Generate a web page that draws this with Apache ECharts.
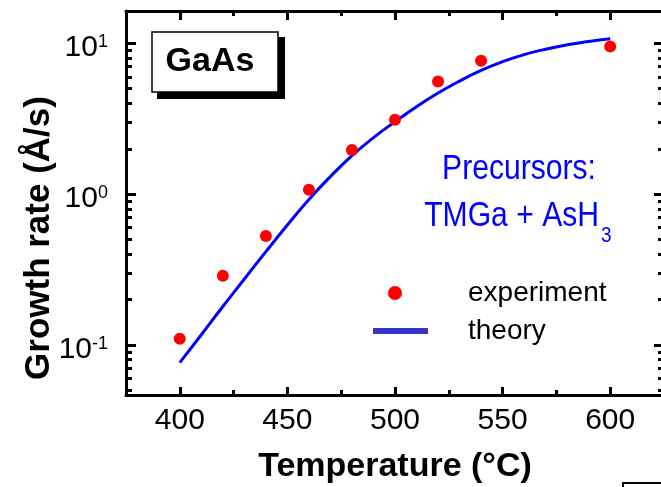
<!DOCTYPE html>
<html>
<head>
<meta charset="utf-8">
<script src="https://cdn.jsdelivr.net/npm/echarts@6/dist/echarts.min.js"></script>
<style>
  html, body { margin: 0; padding: 0; background: #ffffff; }
  #chart { width: 661px; height: 487px; }
</style>
</head>
<body>
<div id="chart"></div>
<script>
// Measured GaAs growth rate (Å/s) versus substrate temperature (°C)
const temperatures = [400, 420, 440, 460, 480, 500, 520, 540, 600];
const measuredRate = [0.110, 0.288, 0.529, 1.07, 1.96, 3.11, 5.58, 7.65, 9.52];

// Model curve
const modelTemperatures = [400, 410, 420, 430, 440, 450, 460, 470, 480, 490, 500,
                           510, 520, 530, 540, 550, 560, 570, 580, 590, 600];
const modelRate = [0.0764, 0.117, 0.180, 0.274, 0.416, 0.625, 0.923, 1.31, 1.80, 2.37, 3.02,
                   3.80, 4.68, 5.62, 6.61, 7.55, 8.41, 9.14, 9.77, 10.28, 10.72];

// Axis ticks
const xTickValues = [400, 450, 500, 550, 600];
const xMinorTickValues = [425, 475, 525, 575];
const yTickExponents = [-1, 0, 1];
const yMinorMantissas = [2, 3, 4, 5, 6, 7, 8, 9];

const X_MIN = 375, X_MAX = 625;
const Y_MIN = -1.331, Y_MAX = 1.214;   // log10 of the rate range

const SANS = "'Liberation Sans', Arial, Helvetica, sans-serif";

const log10 = v => Math.log10(v);

// log-spaced minor tick positions (in log10 units) inside the axis range
const yMinorTickValues = [];
for (let e = -2; e <= 1; e++) {
  yMinorMantissas.forEach(m => {
    const v = log10(m * Math.pow(10, e));
    if (v > Y_MIN && v < Y_MAX) yMinorTickValues.push(v);
  });
}

const measuredData = temperatures.map((t, i) => [t, log10(measuredRate[i])]);
const modelData = modelTemperatures.map((t, i) => [t, log10(modelRate[i])]);

const axisLineStyle = { color: '#000', width: 3 };

function xAxisDef(position, major, withLabels) {
  return {
    type: 'value', position: position, min: X_MIN, max: X_MAX,
    axisLine: { show: major, lineStyle: axisLineStyle, onZero: false },
    axisTick: {
      show: true, inside: true, length: major ? (position === 'top' ? 9 : 8) : 5,
      customValues: major ? xTickValues : xMinorTickValues,
      lineStyle: { color: '#000', width: 3 }
    },
    axisLabel: withLabels ? {
      show: true, customValues: xTickValues, margin: 11,
      color: '#000', fontSize: 30, fontFamily: SANS
    } : { show: false },
    splitLine: { show: false },
    name: withLabels ? 'Temperature (°C)' : '',
    nameLocation: 'middle', nameGap: 55,
    nameTextStyle: { color: '#000', fontSize: 34, fontWeight: 'bold', fontFamily: SANS }
  };
}

function yAxisDef(position, major, withLabels) {
  return {
    type: 'value', position: position, min: Y_MIN, max: Y_MAX,
    axisLine: { show: major, lineStyle: axisLineStyle, onZero: false },
    axisTick: {
      show: true, inside: true, length: major ? 10 : 6,
      customValues: major ? yTickExponents : yMinorTickValues,
      lineStyle: { color: '#000', width: 3 }
    },
    axisLabel: withLabels ? {
      show: true, customValues: yTickExponents, margin: 18,
      padding: [9, 0, 0, 0],
      formatter: v => '{b|10}{s|' + Math.round(v) + '}',
      rich: {
        b: { fontSize: 30, lineHeight: 30, fontFamily: SANS, color: '#000', verticalAlign: 'top' },
        s: { fontSize: 18, lineHeight: 14, fontFamily: SANS, color: '#000', verticalAlign: 'top' }
      }
    } : { show: false },
    splitLine: { show: false },
    name: withLabels ? 'Growth rate (Å/s)' : '',
    nameLocation: 'middle', nameGap: 69, nameMoveOverlap: false,
    nameTextStyle: { color: '#000', fontSize: 35, fontWeight: 'bold', fontFamily: SANS, padding: [0, 70, 0, 0] }
  };
}

const chart = echarts.init(document.getElementById('chart'), null, { renderer: 'canvas' });

chart.setOption({
  animation: false,
  backgroundColor: '#ffffff',
  grid: { left: 126, right: -3, top: 11, bottom: 92, containLabel: false, outerBoundsMode: 'none' },
  xAxis: [
    xAxisDef('bottom', true, true),
    xAxisDef('bottom', false, false),
    xAxisDef('top', true, false),
    xAxisDef('top', false, false)
  ],
  yAxis: [
    yAxisDef('left', true, true),
    yAxisDef('left', false, false),
    yAxisDef('right', true, false),
    yAxisDef('right', false, false)
  ],
  legend: {
    orient: 'vertical', left: 373, top: 279, padding: 0,
    itemWidth: 55, itemHeight: 14, itemGap: 10,
    selectedMode: false,
    textStyle: { color: '#000', fontSize: 28, fontFamily: SANS, padding: [0, 0, 0, 35] },
    data: [
      // dot sits a little left of the icon box centre
      { name: 'experiment', icon: 'path://M0 0M55 14M15 7a7 7 0 1 0 14 0a7 7 0 1 0 -14 0Z',
        itemStyle: { color: '#ff0000', opacity: 1 } },
      { name: 'theory', icon: 'path://M0 0H55V6H0Z', itemStyle: { color: '#3434c8', opacity: 1 } }
    ]
  },
  series: [
    {
      name: 'theory', type: 'line', xAxisIndex: 0, yAxisIndex: 0,
      data: modelData, smooth: true, symbol: 'none', showSymbol: false,
      lineStyle: { color: '#0000ff', width: 3 }, itemStyle: { color: '#0000ff' }, z: 2
    },
    {
      name: 'experiment', type: 'scatter', xAxisIndex: 0, yAxisIndex: 0,
      data: measuredData, symbol: 'circle', symbolSize: 12,
      itemStyle: { color: '#ff0000', opacity: 1 }, z: 3
    }
  ],
  graphic: [
    { type: 'rect', shape: { x: 157, y: 37, width: 128, height: 62 }, style: { fill: '#000' }, z: 10 },
    { type: 'rect', shape: { x: 152, y: 32, width: 126, height: 60 },
      style: { fill: '#fff', stroke: '#000', lineWidth: 1.5 }, z: 11 },
    { type: 'text', x: 210, y: 62, z: 12,
      style: { text: 'GaAs', fontSize: 34, fontWeight: 'bold', fontFamily: SANS, fill: '#000',
               align: 'center', verticalAlign: 'middle', textAlign: 'center', textVerticalAlign: 'middle' } },
    { type: 'text', x: 519, y: 169, scaleX: 0.86, z: 12,
      style: { text: 'Precursors:', fontSize: 35, fontFamily: SANS, fill: '#0000ff',
               align: 'center', verticalAlign: 'middle', textAlign: 'center', textVerticalAlign: 'middle' } },
    { type: 'text', x: 599, y: 216.5, scaleX: 0.86, z: 12,
      style: { text: 'TMGa + AsH', fontSize: 35, fontFamily: SANS, fill: '#0000ff',
               align: 'right', verticalAlign: 'middle', textAlign: 'right', textVerticalAlign: 'middle' } },
    { type: 'text', x: 601, y: 236, scaleX: 0.86, z: 12,
      style: { text: '3', fontSize: 22, fontFamily: SANS, fill: '#0000ff',
               align: 'left', verticalAlign: 'middle', textAlign: 'left', textVerticalAlign: 'middle' } },
    { type: 'rect', shape: { x: 623, y: 483, width: 80, height: 40 },
      style: { fill: '#fff', stroke: '#000', lineWidth: 2 }, z: 10 }
  ]
});
</script>
</body>
</html>
